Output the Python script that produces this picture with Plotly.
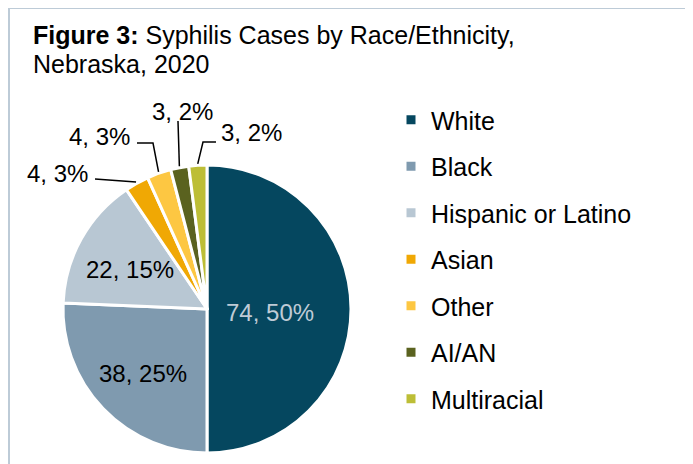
import math
import plotly.graph_objects as go

# ---- data ----
groups = ["White", "Black", "Hispanic or Latino", "Asian", "Other", "AI/AN", "Multiracial"]
cases = [74, 38, 22, 4, 4, 3, 3]
percent_labels = ["50%", "25%", "15%", "3%", "3%", "2%", "2%"]
colors = ["#05475F", "#7F9AAF", "#B8C7D3", "#F0A804", "#FDC742", "#5A621F", "#BDBE36"]

W, H = 693, 464
OFF = 8  # page offset of the plot div (body margin)
FONT = "Liberation Sans, Arial, sans-serif"

# pie geometry in page pixels
CX, CY, R = 207, 309, 144


def px(x):
    return (x - OFF) / W


def py(y):
    return 1 - (y - OFF) / H


fig = go.Figure()
fig.add_trace(go.Pie(
    labels=groups, values=cases, customdata=percent_labels,
    sort=False, direction="clockwise", rotation=0,
    marker=dict(colors=colors, line=dict(color="white", width=3)),
    textinfo="none",
    domain=dict(x=[px(CX - R), px(CX + R)], y=[py(CY + R), py(CY - R)]),
    showlegend=False, hoverinfo="label+value",
))

# legend built from dummy traces (one group each, to control spacing)
for g, c in zip(groups, colors):
    fig.add_trace(go.Scatter(
        x=[None], y=[None], mode="markers", name=g, legendgroup=g,
        marker=dict(symbol="square", size=9, color=c),
    ))

# slice mid angles (clockwise from 12 o'clock)
total = sum(cases)
cum = 0
mid_angles = []
for v in cases:
    mid_angles.append((cum + v / 2) / total * 2 * math.pi)
    cum += v

shapes = []
annotations = []

# inside labels for the large slices: radial fraction and text colour
inside_style = {
    0: dict(frac=0.44, color="#BFCBD6"),
    1: dict(frac=0.62, color="#000000"),
    2: dict(frac=0.61, color="#000000"),
}
for i, st in inside_style.items():
    a = mid_angles[i]
    tx = CX + R * st["frac"] * math.sin(a)
    ty = CY - R * st["frac"] * math.cos(a) + 3
    annotations.append(dict(
        x=px(tx), y=py(ty), xref="paper", yref="paper", showarrow=False,
        text=f"{cases[i]}, {percent_labels[i]}",
        font=dict(family=FONT, size=24, color=st["color"]),
        xanchor="center", yanchor="middle",
    ))

# outside labels for the small slices: text centres and elbow points (page px)
outside_layout = {
    3: dict(text=(58, 173), path=[(95, 179)]),
    4: dict(text=(99, 137), path=[(153, 143), (137, 143)]),
    5: dict(text=(182, 111), path=[(178, 121)]),
    6: dict(text=(252, 133), path=[(203, 142), (216, 142)]),
}
for i, spec in outside_layout.items():
    a = mid_angles[i]
    ex = CX + R * 1.01 * math.sin(a)
    ey = CY - R * 1.01 * math.cos(a)
    pts = [(ex, ey)] + spec["path"]
    d = "M " + " L ".join(f"{px(x):.5f},{py(y):.5f}" for x, y in pts)
    shapes.append(dict(type="path", path=d, xref="paper", yref="paper",
                       line=dict(color="black", width=1.5)))
    tx, ty = spec["text"]
    annotations.append(dict(
        x=px(tx), y=py(ty), xref="paper", yref="paper", showarrow=False,
        text=f"{cases[i]}, {percent_labels[i]}",
        font=dict(family=FONT, size=24, color="black"),
        xanchor="center", yanchor="middle",
    ))

# title (two lines, placed separately for tighter line spacing)
title_lines = ["<b>Figure 3:</b> Syphilis Cases by Race/Ethnicity,", "Nebraska, 2020"]
for line, yc in zip(title_lines, [35, 64]):
    annotations.append(dict(
        x=px(31), y=py(yc), xref="paper", yref="paper", showarrow=False,
        xanchor="left", yanchor="middle", align="left", text=line,
        font=dict(family=FONT, size=25, color="black"),
    ))

# outer border
shapes.append(dict(type="rect", xref="paper", yref="paper",
                   x0=px(9), x1=px(689), y0=-0.1, y1=1.0,
                   line=dict(color="#BDCBD7", width=2)))

fig.update_layout(
    width=W, height=H,
    margin=dict(l=0, r=0, t=0, b=0),
    paper_bgcolor="white", plot_bgcolor="white",
    xaxis=dict(visible=False), yaxis=dict(visible=False),
    legend=dict(x=px(391), y=py(97), xanchor="left", yanchor="top",
                font=dict(family=FONT, size=25, color="black"),
                tracegroupgap=11, bgcolor="rgba(0,0,0,0)"),
    shapes=shapes, annotations=annotations,
)

fig.write_html("out.html")
